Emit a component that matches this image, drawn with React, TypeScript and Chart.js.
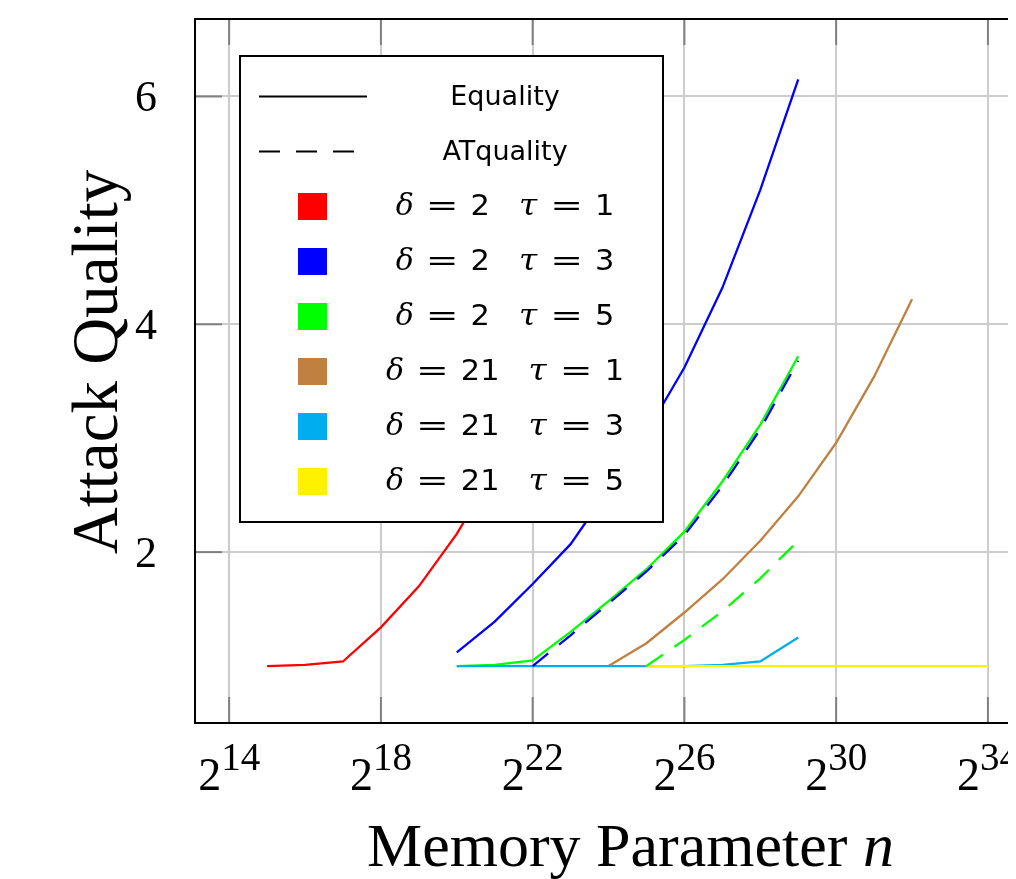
import React, { useEffect, useRef } from "react";
import { Chart, registerables } from "chart.js";

Chart.register(...registerables);

// ---- data (x = log2 of memory parameter n) ----
const xTickExponents = [14, 18, 22, 26, 30, 34];
const yTickValues = [2, 4, 6];
const xMin = 13.1;
const xMax = 35.9;
const yMin = 0.5;
const yMax = 6.68;

const redX = [15, 16, 17, 18, 19, 20, 21, 22, 23];
const redY = [1.0, 1.01, 1.04, 1.34, 1.7, 2.16, 2.72, 3.4, 4.2];

const blueX = [20, 21, 22, 23, 24, 25, 26, 27, 28, 29];
const blueY = [1.12, 1.39, 1.72, 2.07, 2.55, 3.05, 3.62, 4.32, 5.18, 6.15];

const greenX = [20, 21, 22, 23, 24, 25, 26, 27, 28, 29];
const greenY = [1.0, 1.01, 1.05, 1.3, 1.57, 1.85, 2.18, 2.62, 3.12, 3.72];

const brownX = [24, 25, 26, 27, 28, 29, 30, 31, 32];
const brownY = [1.0, 1.2, 1.47, 1.76, 2.1, 2.49, 2.96, 3.54, 4.22];

const cyanX = [20, 21, 22, 23, 24, 25, 26, 27, 28, 29];
const cyanY = [1.0, 1.0, 1.0, 1.0, 1.0, 1.0, 1.0, 1.01, 1.04, 1.25];

const yellowX = [25, 26, 27, 28, 29, 30, 31, 32, 33, 34];
const yellowY = [1, 1, 1, 1, 1, 1, 1, 1, 1, 1];

// ATquality (dashed)
const blueDashX = [22, 23, 24, 25, 26, 27, 28, 29];
const blueDashY = [1.0, 1.27, 1.55, 1.83, 2.15, 2.58, 3.08, 3.68];

const greenDashX = [25, 26, 27, 28, 29];
const greenDashY = [1.0, 1.23, 1.48, 1.77, 2.1];

// legend entries
const legendLineLabels = ["Equality", "ATquality"];
const legendDeltas = [2, 2, 2, 21, 21, 21];
const legendTaus = [1, 3, 5, 1, 3, 5];
const legendColors = ["#ff0000", "#0000ff", "#00ff00", "#bf8040", "#00aeef", "#fff200"];

const xTitle = "Memory Parameter ";
const xTitleVar = "n";
const yTitle = "Attack Quality";

const pts = (xs: number[], ys: number[]) => xs.map((x, i) => ({ x, y: ys[i] }));

const SERIF = '"Liberation Serif", "Times New Roman", serif';
const SANS = '"DejaVu Sans", sans-serif';

const decorPlugin = {
  id: "decor",
  afterDraw(chart: any) {
    const { ctx, chartArea: a, scales } = chart;
    const xs = scales.x;
    const ys = scales.y;
    ctx.save();

    const line = (x1: number, y1: number, x2: number, y2: number) => {
      ctx.beginPath();
      ctx.moveTo(x1, y1);
      ctx.lineTo(x2, y2);
      ctx.stroke();
    };

    // inner tick marks
    ctx.strokeStyle = "#808080";
    ctx.lineWidth = 2;
    xTickExponents.forEach((e) => {
      const px = xs.getPixelForValue(e);
      line(px, a.bottom, px, a.bottom - 26);
      line(px, a.top, px, a.top + 26);
    });
    yTickValues.forEach((v) => {
      const py = ys.getPixelForValue(v);
      line(a.left, py, a.left + 27, py);
    });

    // frame
    ctx.strokeStyle = "#000";
    ctx.lineWidth = 2;
    ctx.strokeRect(a.left, a.top, a.right - a.left, a.bottom - a.top);

    // y tick labels
    ctx.fillStyle = "#000";
    ctx.font = `44px ${SERIF}`;
    ctx.textAlign = "right";
    ctx.textBaseline = "alphabetic";
    yTickValues.forEach((v) => {
      const py = ys.getPixelForValue(v);
      ctx.fillText(String(v), a.left - 38, py + 15);
    });

    // x tick labels 2^e
    ctx.textAlign = "left";
    xTickExponents.forEach((e) => {
      const px = xs.getPixelForValue(e);
      ctx.font = `46px ${SERIF}`;
      const wb = ctx.measureText("2").width;
      ctx.font = `39px ${SERIF}`;
      const we = ctx.measureText(String(e)).width;
      const start = px - (wb + we) / 2;
      ctx.font = `46px ${SERIF}`;
      ctx.fillText("2", start, a.bottom + 67);
      ctx.font = `39px ${SERIF}`;
      ctx.fillText(String(e), start + wb, a.bottom + 47);
    });

    // x title
    ctx.font = `62px ${SERIF}`;
    const w1 = ctx.measureText(xTitle).width;
    ctx.font = `italic 62px ${SERIF}`;
    const w2 = ctx.measureText(xTitleVar).width;
    const cx = (a.left + a.right) / 2 + 3;
    const sx = cx - (w1 + w2) / 2;
    ctx.font = `62px ${SERIF}`;
    ctx.fillText(xTitle, sx, a.bottom + 143);
    ctx.font = `italic 62px ${SERIF}`;
    ctx.fillText(xTitleVar, sx + w1, a.bottom + 143);

    // y title
    ctx.save();
    ctx.translate(a.left - 78, (a.top + a.bottom) / 2 - 9);
    ctx.rotate(-Math.PI / 2);
    ctx.textAlign = "center";
    ctx.font = `65px ${SERIF}`;
    ctx.fillText(yTitle, 0, 0);
    ctx.restore();

    // legend box
    const lx = a.left + 45;
    const ty = a.top + 37;
    const lw = 423;
    const lh = 466;
    ctx.fillStyle = "#fff";
    ctx.fillRect(lx, ty, lw, lh);
    ctx.strokeStyle = "#000";
    ctx.lineWidth = 2;
    ctx.strokeRect(lx, ty, lw, lh);

    const rowY = (i: number) => ty + 40.5 + i * 55;
    const textCx = lx + 265;

    // line-style entries
    ctx.strokeStyle = "#000";
    ctx.lineWidth = 2;
    line(lx + 19, rowY(0), lx + 127, rowY(0));
    ctx.setLineDash([21, 16]);
    line(lx + 19, rowY(1), lx + 114, rowY(1));
    ctx.setLineDash([]);

    ctx.fillStyle = "#000";
    ctx.textAlign = "center";
    ctx.font = `27px ${SANS}`;
    legendLineLabels.forEach((t, i) => {
      ctx.fillText(t, textCx, rowY(i) + 8);
    });

    // colour entries
    legendColors.forEach((c, i) => {
      const y = rowY(i + 2);
      ctx.fillStyle = c;
      ctx.fillRect(lx + 58, y - 13.5, 29, 27);
      // math text  δ = d   τ = t
      const tokens = [
        { t: "δ", f: `italic 30px "DejaVu Serif", serif`, sx: 1 },
        { t: "=", f: `29px ${SANS}`, sx: 1.35 },
        { t: String(legendDeltas[i]), f: `29px ${SANS}`, sx: 1.05 },
        { t: "τ", f: `italic 30px "DejaVu Serif", serif`, sx: 1.1 },
        { t: "=", f: `29px ${SANS}`, sx: 1.35 },
        { t: String(legendTaus[i]), f: `29px ${SANS}`, sx: 1.05 },
      ];
      const gaps = [12, 12, 29, 13, 12];
      const widths = tokens.map((tk) => {
        ctx.font = tk.f;
        return ctx.measureText(tk.t).width * tk.sx;
      });
      const total = widths.reduce((s, w) => s + w, 0) + gaps.reduce((s, g) => s + g, 0);
      let x = textCx - total / 2;
      ctx.fillStyle = "#000";
      ctx.textAlign = "left";
      tokens.forEach((tk, k) => {
        ctx.font = tk.f;
        ctx.save();
        ctx.translate(x, y + 8);
        ctx.scale(tk.sx, 1);
        ctx.fillText(tk.t, 0, 0);
        ctx.restore();
        x += widths[k] + (gaps[k] || 0);
      });
      ctx.textAlign = "center";
    });

    ctx.restore();
  },
};

const CANVAS_W = 1070;
const CANVAS_H = 871;

export default function App() {
  const ref = useRef<HTMLCanvasElement>(null);

  useEffect(() => {
    const canvas = ref.current;
    if (!canvas) return;
    const base = { pointRadius: 0, borderWidth: 2.3, tension: 0, fill: false };
    const chart = new Chart(canvas, {
      type: "line",
      data: {
        datasets: [
          { ...base, label: "ATquality δ=2 τ=5", data: pts(greenDashX, greenDashY), borderColor: "#00ff00", borderDash: [20, 14], order: 0 },
          { ...base, label: "ATquality δ=2 τ=3", data: pts(blueDashX, blueDashY), borderColor: "#0000ff", borderDash: [20, 14], order: 1 },
          { ...base, label: "δ=21 τ=5", data: pts(yellowX, yellowY), borderColor: "#fff200", order: 2 },
          { ...base, label: "δ=21 τ=3", data: pts(cyanX, cyanY), borderColor: "#00aeef", order: 3 },
          { ...base, label: "δ=21 τ=1", data: pts(brownX, brownY), borderColor: "#bf8040", order: 4 },
          { ...base, label: "δ=2 τ=5", data: pts(greenX, greenY), borderColor: "#00ff00", order: 5 },
          { ...base, label: "δ=2 τ=3", data: pts(blueX, blueY), borderColor: "#0000ff", order: 6 },
          { ...base, label: "δ=2 τ=1", data: pts(redX, redY), borderColor: "#ff0000", order: 7 },
        ],
      },
      options: {
        animation: false,
        responsive: false,
        devicePixelRatio: 1,
        layout: { padding: { left: 187, top: 11, right: CANVAS_W - 1052, bottom: CANVAS_H - 715 } },
        plugins: { legend: { display: false }, tooltip: { enabled: false }, title: { display: false } },
        scales: {
          x: {
            type: "linear",
            min: xMin,
            max: xMax,
            afterBuildTicks: (s: any) => {
              s.ticks = xTickExponents.map((v) => ({ value: v }));
            },
            ticks: { display: false },
            grid: { color: "#cccccc", lineWidth: 2, drawTicks: false },
            border: { display: false },
          },
          y: {
            type: "linear",
            min: yMin,
            max: yMax,
            afterBuildTicks: (s: any) => {
              s.ticks = yTickValues.map((v) => ({ value: v }));
            },
            ticks: { display: false },
            grid: { color: "#cccccc", lineWidth: 2, drawTicks: false },
            border: { display: false },
          },
        },
      },
      plugins: [decorPlugin],
    } as any);
    return () => chart.destroy();
  }, []);

  return (
    <div style={{ width: 1008, height: CANVAS_H, overflow: "hidden", position: "relative" }}>
      <canvas ref={ref} width={CANVAS_W} height={CANVAS_H} style={{ display: "block", width: CANVAS_W, height: CANVAS_H }} />
    </div>
  );
}
